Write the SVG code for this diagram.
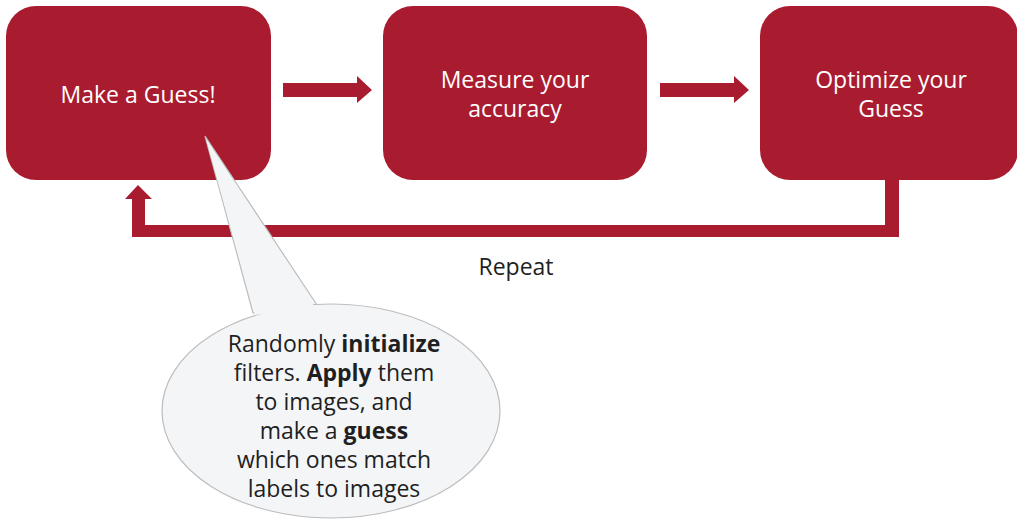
<svg xmlns="http://www.w3.org/2000/svg" width="1017" height="521" viewBox="0 0 1017 521">
  <style>
    .box { fill: #A91C30; }
    .box-label { font-family: "Open Sans", "Liberation Sans", sans-serif; font-size: 23px; fill: #ffffff; text-anchor: middle; }
    .flow { fill: #A91C30; }
    .caption { font-family: "Open Sans", "Liberation Sans", sans-serif; font-size: 23px; fill: #1f1f1f; text-anchor: middle; }
    .note { font-family: "Open Sans", "Liberation Sans", sans-serif; font-size: 23px; fill: #1f1f1f; text-anchor: middle; }
    .bubble { fill: #F4F5F7; stroke: #BDBDBD; stroke-width: 1.2; }
  </style>
  <rect width="1017" height="521" fill="#ffffff"/>

  <g id="node-guess">
    <rect class="box" x="6" y="6" width="265" height="174" rx="30"/>
    <text class="box-label" x="138" y="103">Make a Guess!</text>
  </g>
  <g id="node-measure">
    <rect class="box" x="383" y="6" width="264" height="174" rx="30"/>
    <text class="box-label" x="515" y="88">Measure your</text>
    <text class="box-label" x="515" y="117">accuracy</text>
  </g>
  <g id="node-optimize">
    <rect class="box" x="760" y="6" width="258" height="174" rx="30"/>
    <text class="box-label" x="891" y="88">Optimize your</text>
    <text class="box-label" x="891" y="117">Guess</text>
  </g>

  <g id="connectors">
    <!-- guess -> measure -->
    <polygon class="flow" points="283,83 357,83 357,76 372,90 357,103 357,97 283,97"/>
    <!-- measure -> optimize -->
    <polygon class="flow" points="660,83 734,83 734,76 749,90 734,103 734,97 660,97"/>
    <!-- repeat loop: optimize back to guess -->
    <polygon class="flow" points="885,180 899,180 899,237 132,237 132,199 125,199 138,185 152,199 145,199 145,225 885,225"/>
  </g>

  <g id="label-repeat">
    <text class="caption" x="516" y="275">Repeat</text>
  </g>

  <g id="callout">
    <polygon class="bubble" points="205,136 317,305 253,313"/>
    <ellipse class="bubble" cx="331" cy="411" rx="169" ry="107"/>
    <!-- cover the seam between tail and body -->
    <polygon points="206,139 314,306 255,315" fill="#F4F5F7"/>
    <text class="note" x="334" y="352">Randomly <tspan font-weight="bold">initialize</tspan></text>
    <text class="note" x="334" y="381">filters. <tspan font-weight="bold">Apply</tspan> them</text>
    <text class="note" x="334" y="410">to images, and</text>
    <text class="note" x="334" y="439">make a <tspan font-weight="bold">guess</tspan></text>
    <text class="note" x="334" y="468">which ones match</text>
    <text class="note" x="334" y="497">labels to images</text>
  </g>
</svg>
